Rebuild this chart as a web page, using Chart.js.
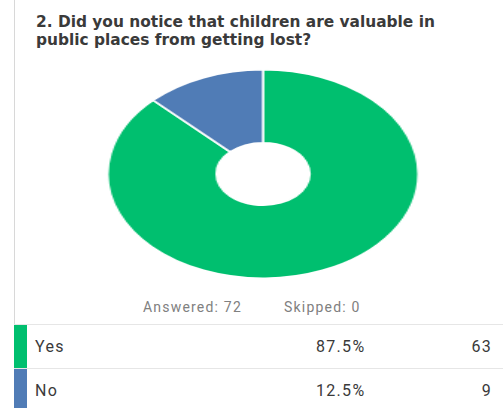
<!DOCTYPE html>
<html>
<head>
<meta charset="utf-8">
<script src="https://cdn.jsdelivr.net/npm/chart.js@4.4.0/dist/chart.umd.min.js"></script>
<style>
  html, body { margin: 0; padding: 0; background: #fff; }
  body { width: 503px; height: 408px; position: relative; overflow: hidden; font-family: Roboto, "Noto Sans", sans-serif; }
  .vline { position: absolute; left: 14px; top: 0; width: 1px; height: 325px; background: #d8d8d8; }
  .title { position: absolute; left: 36px; top: 13px; font-family: "DejaVu Sans", sans-serif; font-weight: bold; font-size: 15.4px; line-height: 18px; color: #3a3a3a; }
  .chart-wrap { position: absolute; left: 158px; top: 69px; width: 210px; height: 210px; transform: scaleX(1.49); transform-origin: 105px 105px; }
  .stats { position: absolute; top: 299px; font-size: 14px; letter-spacing: 1.2px; color: #808080; }
  .row { position: absolute; left: 14px; width: 489px; height: 44px; border-top: 1px solid #e6e6e6; }
  .row .swatch { position: absolute; left: 0; top: 0; width: 13px; height: 100%; }
  .row .cell { position: absolute; top: 0; line-height: 44px; font-size: 16px; letter-spacing: 1.3px; color: #3a3a3a; }
</style>
</head>
<body>
<div class="vline"></div>
<div class="title">2. Did you notice that children are valuable in<br>public places from getting lost?</div>
<div class="chart-wrap"><canvas id="pie" width="210" height="210"></canvas></div>
<div class="stats" style="left:143px">Answered: 72</div>
<div class="stats" style="left:284px">Skipped: 0</div>
<div id="table"></div>
<script>
// 数据
const labels = ['Yes', 'No'];
const percents = [87.5, 12.5];
const counts = [63, 9];
const colors = ['#00bf6f', '#507cb6'];
const answered = 72;

// 表格行
function buildTable() {
  const table = document.getElementById('table');
  const tops = [324, 368];
  labels.forEach((label, i) => {
    const row = document.createElement('div');
    row.className = 'row';
    row.style.top = tops[i] + 'px';
    row.innerHTML =
      '<div class="swatch" style="background:' + colors[i] + '"></div>' +
      '<div class="cell" style="left:21px">' + label + '</div>' +
      '<div class="cell" style="left:302px">' + percents[i].toFixed(1) + '%</div>' +
      '<div class="cell" style="right:11px">' + counts[i] + '</div>';
    table.appendChild(row);
  });
}

// 饼图
function drawPie() {
  const ctx = document.getElementById('pie');
  new Chart(ctx, {
    type: 'doughnut',
    data: {
      labels: labels,
      datasets: [{
        data: counts,
        backgroundColor: colors,
        borderColor: '#ffffff',
        borderWidth: 1.5
      }]
    },
    options: {
      responsive: false,
      maintainAspectRatio: false,
      cutout: '30%',
      animation: false,
      layout: { padding: 0 },
      plugins: {
        legend: { display: false },
        tooltip: { enabled: false }
      }
    }
  });
}

buildTable();
drawPie();
</script>
</body>
</html>
